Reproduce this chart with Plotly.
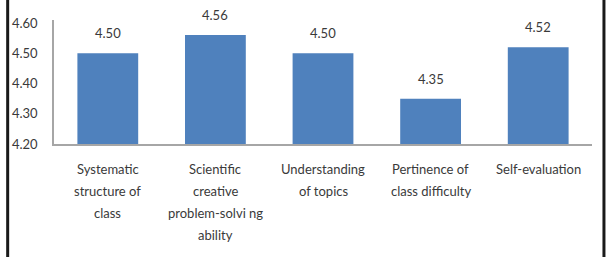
import plotly.graph_objects as go

categories = [
    "Systematic<br>structure of<br>class",
    "Scientific<br>creative<br>problem-solvi ng<br>ability",
    "Understanding<br>of topics",
    "Pertinence of<br>class difficulty",
    "Self-evaluation",
]
values = [4.50, 4.56, 4.50, 4.35, 4.52]
value_labels = ["4.50", "4.56", "4.50", "4.35", "4.52"]
ytick_vals = [4.20, 4.30, 4.40, 4.50, 4.60]
ytick_text = ["4.20", "4.30", "4.40", "4.50", "4.60"]

FONT = "Lato, Open Sans, sans-serif"
TXT = "#3a3a3a"
W, H = 609, 257
ML, MR, MT, MB = 52, 17, 20, 113
PW, PH = W - ML - MR, H - MT - MB

xs = list(range(len(categories)))

fig = go.Figure(go.Bar(
    x=xs, y=values, marker=dict(color="#4F81BD", line=dict(width=0)),
    width=0.565,
))

annotations = []
for i, (v, t) in enumerate(zip(values, value_labels)):
    annotations.append(dict(x=i, y=v, xref="x", yref="y", text=t, showarrow=False,
                            yanchor="bottom", yshift=10,
                            font=dict(family=FONT, size=13, color=TXT)))
for i, c in enumerate(categories):
    for j, line in enumerate(c.split("<br>")):
        annotations.append(dict(x=i, y=0, xref="x", yref="paper", text=line, showarrow=False,
                                yanchor="middle", yshift=-25 - 22 * j,
                                font=dict(family=FONT, size=13, color=TXT)))

def px(xpix):
    return (xpix - ML) / PW

shapes = [
    dict(type="line", xref="paper", yref="paper", x0=px(5.5), x1=px(5.5), y0=-2, y1=2,
         line=dict(color="#1a1a1a", width=3)),
    dict(type="line", xref="paper", yref="paper", x0=px(604), x1=px(604), y0=-2, y1=2,
         line=dict(color="#1a1a1a", width=3)),
]

fig.update_layout(
    width=W, height=H,
    margin=dict(l=ML, r=MR, t=MT, b=MB),
    paper_bgcolor="white", plot_bgcolor="white",
    showlegend=False,
    annotations=annotations,
    shapes=shapes,
    xaxis=dict(range=[-0.5, len(categories) - 0.5], showticklabels=False, ticks="",
               showline=True, linecolor="#a6a6a6", linewidth=2, showgrid=False, zeroline=False,
               fixedrange=True),
    yaxis=dict(range=[4.2, 4.61], tickvals=ytick_vals, ticktext=ytick_text, ticks="",
               showline=True, linecolor="#a6a6a6", linewidth=1.5, showgrid=False, zeroline=False,
               tickfont=dict(family=FONT, size=13, color=TXT), ticklabelstandoff=12,
               fixedrange=True),
)

fig.write_html("out.html")
